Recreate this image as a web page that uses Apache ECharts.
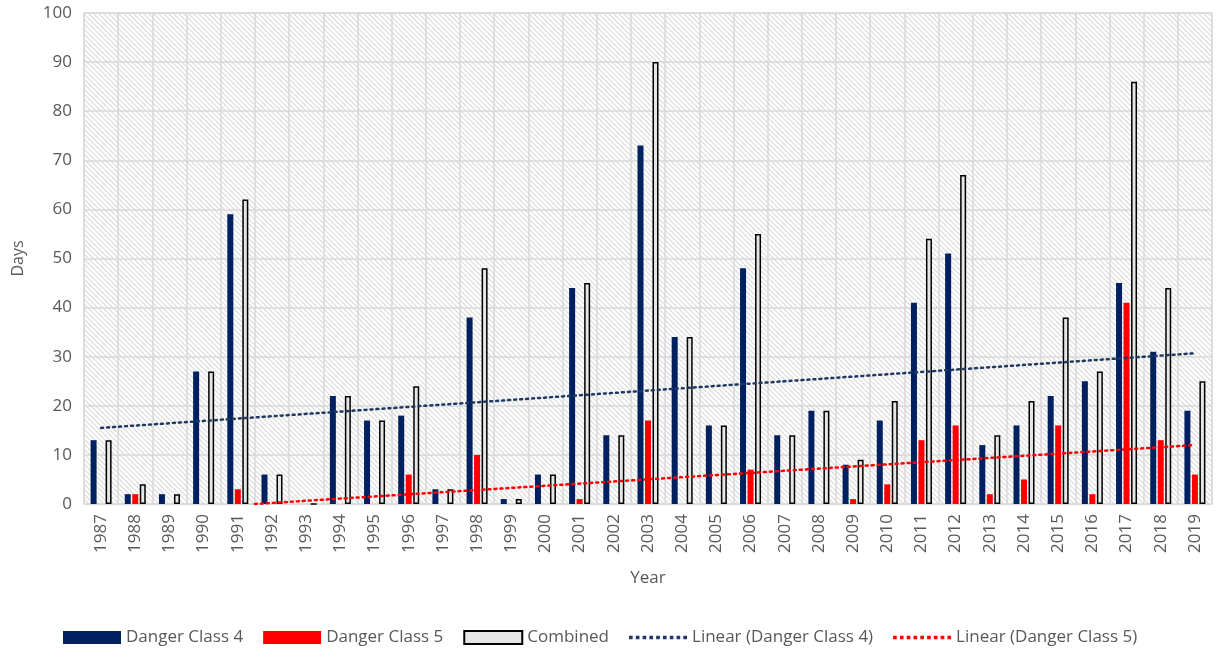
<!DOCTYPE html>
<html><head><meta charset="utf-8">
<script src="https://cdn.jsdelivr.net/npm/echarts@6/dist/echarts.min.js"></script>
<style>html,body{margin:0;padding:0;background:#fff}#c{width:1222px;height:652px}</style>
</head><body><div id="c"></div>
<script>
const years = ['1987','1988','1989','1990','1991','1992','1993','1994','1995','1996','1997','1998','1999','2000','2001','2002','2003','2004','2005','2006','2007','2008','2009','2010','2011','2012','2013','2014','2015','2016','2017','2018','2019'];
const class4 = [13,2,2,27,59,6,0,22,17,18,3,38,1,6,44,14,73,34,16,48,14,19,8,17,41,51,12,16,22,25,45,31,19];
const class5 = [0,2,0,0,3,0,0,0,0,6,0,10,0,0,1,0,17,0,0,7,0,0,1,4,13,16,2,5,16,2,41,13,6];
const combined = [13,4,2,27,62,6,0,22,17,24,3,48,1,6,45,14,90,34,16,55,14,19,9,21,54,67,14,21,38,27,86,44,25];
const trend4 = [[1987,15.5],[2019,30.7]];
const trend5 = [[1991.5,0],[2019,12.0]];

const pc = document.createElement('canvas');
pc.width = 5; pc.height = 5;
const g = pc.getContext('2d');
g.fillStyle = '#ffffff'; g.fillRect(0,0,5,5);
g.strokeStyle = '#d9d9d9'; g.lineWidth = 1.1;
g.beginPath(); g.moveTo(-1,-1); g.lineTo(6,6); g.moveTo(-1,4); g.lineTo(1,6); g.moveTo(4,-1); g.lineTo(6,1); g.stroke();

let dots = 'path://';
for (let i = 0; i < 9; i++) { dots += 'M' + (i*6.5) + ',0h3.5v3.5h-3.5z'; }

const font = "'Open Sans', sans-serif";
const txt = '#595959';
const chart = echarts.init(document.getElementById('c'));
chart.setOption({
  animation: false,
  textStyle: {fontFamily: font},
  grid: {left: 84, right: 10, top: 13, bottom: 148, show: true, borderWidth: 1, borderColor: '#d9d9d9',
         backgroundColor: {image: pc, repeat: 'repeat'}},
  legend: {top: 624, left: 58, itemWidth: 58, itemHeight: 13, itemGap: 20,
    textStyle: {fontSize: 17, color: txt, fontFamily: font},
    data: [{name:'Danger Class 4', icon:'rect'},{name:'Danger Class 5', icon:'rect'},{name:'Combined', icon:'rect'},
           {name:'Linear (Danger Class 4)', icon: dots},{name:'Linear (Danger Class 5)', icon: dots}]},
  xAxis: [{
    type: 'category', data: years, name: 'Year', nameLocation: 'middle', nameGap: 66,
    nameTextStyle: {fontSize: 17, color: txt},
    axisLine: {show: true, lineStyle: {color: '#d9d9d9'}}, axisTick: {show: false},
    axisLabel: {rotate: 90, fontSize: 17, color: txt, margin: 10},
    splitLine: {show: true, lineStyle: {color: '#d9d9d9', width: 1.5}}
  }, {
    type: 'value', min: 1986.5, max: 2019.5, show: false
  }],
  yAxis: {
    type: 'value', min: 0, max: 100, interval: 10, name: 'Days', nameLocation: 'middle', nameGap: 58,
    nameTextStyle: {fontSize: 16, color: txt},
    axisLine: {show: false}, axisTick: {show: false},
    axisLabel: {fontSize: 17, color: txt, margin: 12},
    splitLine: {lineStyle: {color: '#d9d9d9', width: 1.5}}
  },
  series: [
    {name: 'Danger Class 4', type: 'bar', data: class4, barWidth: 6, barGap: '25%', itemStyle: {color: '#002060'}},
    {name: 'Danger Class 5', type: 'bar', data: class5, barWidth: 6, barGap: '25%', itemStyle: {color: '#ff0000'}},
    {name: 'Combined', type: 'bar', data: combined, barWidth: 6, barGap: '25%', itemStyle: {color: '#e6e6e6', borderColor: '#000000', borderWidth: 1.5}},
    {name: 'Linear (Danger Class 4)', type: 'line', xAxisIndex: 1, data: trend4, symbol: 'none', z: 5,
     lineStyle: {color: '#1f3864', width: 2.5, type: [2, 4], cap: 'round'}, itemStyle: {color: '#1f3864'}},
    {name: 'Linear (Danger Class 5)', type: 'line', xAxisIndex: 1, data: trend5, symbol: 'none', z: 5,
     lineStyle: {color: '#ff0000', width: 2.5, type: [2, 4], cap: 'round'}, itemStyle: {color: '#ff0000'}}
  ]
});
</script></body></html>
